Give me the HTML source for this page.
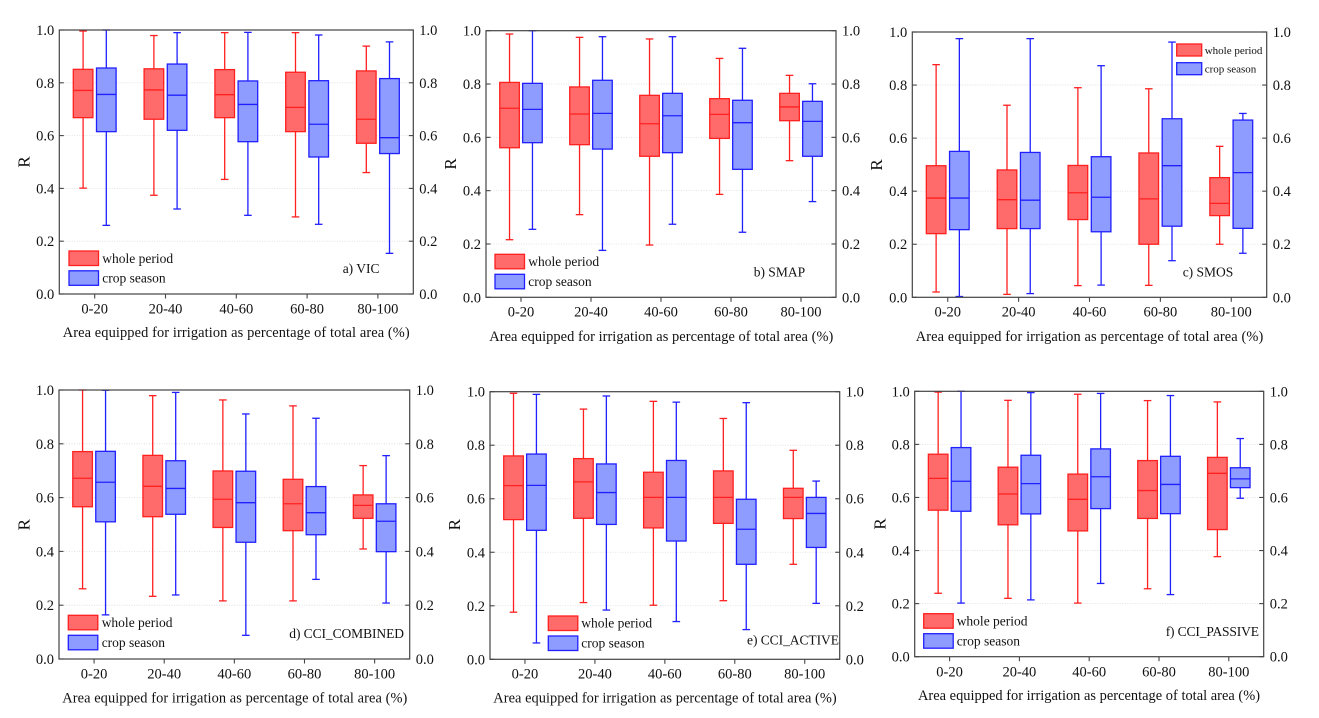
<!DOCTYPE html>
<html lang="en">
<head>
<meta charset="utf-8">
<title>Correlation R by irrigated area for six soil moisture products</title>
<style>
html,body{margin:0;padding:0;background:#fff;width:1319px;height:718px;overflow:hidden}
svg{display:block;filter:blur(.3px)}
text{font-family:"Liberation Serif",serif;fill:#111}
.leg,.tag{font-size:13.5px}
.xt{font-size:14.4px}
.tk{font-size:14.5px}
.yt{font-size:17px}
.red{fill:#ff6b6b;stroke:#ff2020;stroke-width:1.3}
.blue{fill:#8f9cff;stroke:#2020ff;stroke-width:1.3}
</style>
</head>
<body>
<svg id="figure" xmlns="http://www.w3.org/2000/svg" width="1319" height="718" viewBox="0 0 1319 718">
  <g id="panel-vic">
    <g class="marks"></g>
    <text class="yt" transform="rotate(-90 29.5 162)" x="29.5" y="162" text-anchor="middle">R</text>
    <text class="xt" x="62.7" y="337" textLength="347" lengthAdjust="spacing">Area equipped for irrigation as percentage of total area (%)</text>
    <rect class="red" x="69" y="251" width="29.5" height="14.5"/>
    <text class="leg" x="102.3" y="263">whole period</text>
    <rect class="blue" x="69" y="270.8" width="29.5" height="14.5"/>
    <text class="leg" x="102.3" y="282.5">crop season</text>
    <text class="tag" x="342.7" y="273">a) VIC</text>
  </g>
  <g id="panel-smap">
    <g class="marks"></g>
    <text class="yt" transform="rotate(-90 456 164)" x="456" y="164" text-anchor="middle">R</text>
    <text class="xt" x="489.3" y="341" textLength="344" lengthAdjust="spacing">Area equipped for irrigation as percentage of total area (%)</text>
    <rect class="red" x="495" y="254.3" width="29.5" height="14.5"/>
    <text class="leg" x="528.3" y="266">whole period</text>
    <rect class="blue" x="495" y="274.3" width="29.5" height="14.5"/>
    <text class="leg" x="528.3" y="286">crop season</text>
    <text class="tag" x="753.7" y="276.7">b) SMAP</text>
  </g>
  <g id="panel-smos">
    <g class="marks"></g>
    <text class="yt" transform="rotate(-90 882 165)" x="882" y="165" text-anchor="middle">R</text>
    <text class="xt" x="915.7" y="341" textLength="347.6" lengthAdjust="spacing">Area equipped for irrigation as percentage of total area (%)</text>
    <text class="tag" x="1182.7" y="276.7">c) SMOS</text>
  </g>
  <g id="panel-combined">
    <g class="marks"></g>
    <text class="yt" transform="rotate(-90 29.5 524.7)" x="29.5" y="524.7" text-anchor="middle">R</text>
    <text class="xt" x="62.3" y="702.7" textLength="345" lengthAdjust="spacing">Area equipped for irrigation as percentage of total area (%)</text>
    <rect class="red" x="68.3" y="615.3" width="29.5" height="14.5"/>
    <text class="leg" x="101.7" y="627">whole period</text>
    <rect class="blue" x="68.3" y="635.3" width="29.5" height="14.5"/>
    <text class="leg" x="101.7" y="647">crop season</text>
    <text class="tag" x="289.3" y="638" textLength="114.7" lengthAdjust="spacing">d) CCI_COMBINED</text>
  </g>
  <g id="panel-active">
    <g class="marks"></g>
    <text class="yt" transform="rotate(-90 460 524.7)" x="460" y="524.7" text-anchor="middle">R</text>
    <text class="xt" x="493.3" y="702.7" textLength="343.4" lengthAdjust="spacing">Area equipped for irrigation as percentage of total area (%)</text>
    <rect class="red" x="548.3" y="616" width="29.5" height="14.5"/>
    <text class="leg" x="581.3" y="627.7">whole period</text>
    <rect class="blue" x="548.3" y="636" width="29.5" height="14.5"/>
    <text class="leg" x="581.3" y="647.7">crop season</text>
    <text class="tag" x="747" y="644.7" textLength="92" lengthAdjust="spacing">e) CCI_ACTIVE</text>
  </g>
  <g id="panel-passive">
    <g class="marks"></g>
    <text class="yt" transform="rotate(-90 885.3 524)" x="885.3" y="524" text-anchor="middle">R</text>
    <text class="xt" x="918" y="700" textLength="342" lengthAdjust="spacing">Area equipped for irrigation as percentage of total area (%)</text>
    <rect class="red" x="923.7" y="613.7" width="29.5" height="14.5"/>
    <text class="leg" x="956.7" y="625.5">whole period</text>
    <rect class="blue" x="923.7" y="633.7" width="29.5" height="14.5"/>
    <text class="leg" x="956.7" y="645.5">crop season</text>
    <text class="tag" x="1165.7" y="636" textLength="93.3" lengthAdjust="spacing">f) CCI_PASSIVE</text>
  </g>
  <g id="smos-legend-top">
    <rect class="red" x="1176.7" y="44" width="25" height="12"/>
    <text x="1204.7" y="54" font-size="11">whole period</text>
    <rect class="blue" x="1176.7" y="62.7" width="25" height="12"/>
    <text x="1204.7" y="72.5" font-size="11">crop season</text>
  </g>
</svg>
<script>
// Shared axis labels
const categories = ["0-20", "20-40", "40-60", "60-80", "80-100"];
const yTickValues = [0, 0.2, 0.4, 0.6, 0.8, 1.0];
const yTickLabels = ["0.0", "0.2", "0.4", "0.6", "0.8", "1.0"];

// Each row is one category: [low whisker, Q1, median, Q3, high whisker]
const vicWhole = [[.401,.668,.771,.851,.996],[.374,.662,.773,.853,.979],[.434,.668,.755,.85,.99],[.292,.615,.707,.84,.99],[.46,.571,.662,.845,.939]];
const vicCrop = [[.26,.615,.756,.856,1],[.322,.62,.753,.871,.99],[.298,.577,.718,.807,.991],[.264,.519,.643,.808,.981],[.154,.532,.592,.816,.955]];
const smapWhole = [[.216,.561,.709,.806,.9875],[.31,.5725,.6875,.789,.975],[.196,.529,.651,.7575,.969],[.386,.596,.686,.745,.896],[.5125,.6625,.714,.765,.8325]];
const smapCrop = [[.255,.58,.705,.8025,1],[.176,.556,.69,.814,.9775],[.274,.5425,.681,.765,.9775],[.244,.48,.655,.739,.934],[.359,.529,.66,.735,.801]];
const smosWhole = [[.02,.24,.374,.496,.877],[.011,.259,.368,.48,.724],[.044,.293,.394,.497,.79],[.045,.2,.371,.544,.786],[.2,.308,.354,.451,.569]];
const smosCrop = [[.003,.255,.374,.55,.975],[.014,.259,.366,.546,.975],[.046,.247,.377,.53,.873],[.138,.268,.496,.673,.962],[.166,.26,.47,.668,.693]];
const combinedWhole = [[.261,.566,.672,.771,1],[.233,.529,.642,.757,.979],[.216,.489,.594,.699,.963],[.216,.477,.577,.668,.941],[.409,.523,.571,.61,.719]];
const combinedCrop = [[.164,.51,.657,.772,.999],[.238,.538,.634,.737,.991],[.088,.434,.581,.698,.911],[.296,.462,.544,.641,.895],[.208,.399,.512,.577,.756]];
const activeWhole = [[.176,.522,.649,.76,.994],[.212,.527,.663,.75,.935],[.202,.491,.605,.699,.964],[.219,.508,.605,.704,.9],[.355,.526,.605,.639,.781]];
const activeCrop = [[.061,.482,.65,.767,.99],[.184,.504,.623,.73,.984],[.141,.442,.605,.743,.961],[.111,.355,.486,.598,.959],[.209,.418,.545,.605,.666]];
const passiveWhole = [[.239,.552,.672,.763,.997],[.22,.497,.613,.714,.966],[.202,.474,.593,.688,.989],[.256,.521,.626,.739,.965],[.377,.479,.691,.751,.96]];
const passiveCrop = [[.202,.548,.661,.788,1],[.214,.538,.652,.759,.995],[.276,.558,.678,.783,.992],[.234,.539,.649,.755,.984],[.597,.637,.67,.712,.822]];

const NS = "http://www.w3.org/2000/svg";
const COLORS = {
  whole: {fill: "#ff6b6b", stroke: "#ff2020"},
  crop: {fill: "#8f9cff", stroke: "#2020ff"}
};

// Plot-frame geometry for each panel
const panels = [
  {id: "panel-vic", whole: vicWhole, crop: vicCrop, left: 59.3, right: 413.3, top: 30, bottom: 294, tickY: 313.3},
  {id: "panel-smap", whole: smapWhole, crop: smapCrop, left: 486, right: 836, top: 30.7, bottom: 297.3, tickY: 316.7},
  {id: "panel-smos", whole: smosWhole, crop: smosCrop, left: 912.3, right: 1266.7, top: 32, bottom: 297.3, tickY: 316.7},
  {id: "panel-combined", whole: combinedWhole, crop: combinedCrop, left: 59, right: 409.7, top: 390, bottom: 659, tickY: 678.7},
  {id: "panel-active", whole: activeWhole, crop: activeCrop, left: 490, right: 839.7, top: 391.7, bottom: 659.3, tickY: 678.7},
  {id: "panel-passive", whole: passiveWhole, crop: passiveCrop, left: 914.7, right: 1263.7, top: 391.3, bottom: 656.7, tickY: 676.3}
];

function yScale(p, v) {
  return p.bottom - v * (p.bottom - p.top);
}
function xBand(p, i) {
  return p.left + (i + 0.5) * (p.right - p.left) / categories.length;
}
function makeLine(x1, y1, x2, y2, stroke, width) {
  const el = document.createElementNS(NS, "line");
  el.setAttribute("x1", x1);
  el.setAttribute("y1", y1);
  el.setAttribute("x2", x2);
  el.setAttribute("y2", y2);
  el.setAttribute("stroke", stroke);
  el.setAttribute("stroke-width", width);
  return el;
}
function makeLabel(cls, x, y, anchor, content) {
  const el = document.createElementNS(NS, "text");
  el.setAttribute("class", cls);
  el.setAttribute("x", x);
  el.setAttribute("y", y);
  el.setAttribute("text-anchor", anchor);
  el.textContent = content;
  return el;
}

function drawBox(g, p, row, cx, seriesName, color) {
  const boxW = 19.6, capW = 7.6;
  const low = yScale(p, row[0]), q1 = yScale(p, row[1]), med = yScale(p, row[2]), q3 = yScale(p, row[3]), high = yScale(p, row[4]);

  const whisker = makeLine(cx, high, cx, low, color.stroke, 1.3);
  
  
  g.appendChild(whisker);

  const capHigh = makeLine(cx - capW / 2, high, cx + capW / 2, high, color.stroke, 1.3);
  
  
  g.appendChild(capHigh);

  const capLow = makeLine(cx - capW / 2, low, cx + capW / 2, low, color.stroke, 1.3);
  
  
  g.appendChild(capLow);

  const box = document.createElementNS(NS, "rect");
  box.setAttribute("x", cx - boxW / 2);
  box.setAttribute("y", q3);
  box.setAttribute("width", boxW);
  box.setAttribute("height", q1 - q3);
  box.setAttribute("fill", color.fill);
  box.setAttribute("stroke", color.stroke);
  box.setAttribute("stroke-width", 1.3);
  
  
  g.appendChild(box);

  const median = makeLine(cx - boxW / 2, med, cx + boxW / 2, med, color.stroke, 1.3);
  
  
  g.appendChild(median);
}

function drawPanel(p) {
  const g = document.querySelector("#" + p.id + " .marks");
  const axisColor = "#444";
  const offset = 11.6 * (p.right - p.left) / 354;

  yTickValues.forEach(function (v, i) {
    const y = yScale(p, v);
    if (v > 0 && v < 1) {
      const grid = makeLine(p.left, y, p.right, y, "#dcdcdc", 0.8);
      grid.setAttribute("stroke-dasharray", "1 1.5");
      
      
      g.appendChild(grid);
    }
  });

  categories.forEach(function (c, i) {
    const cx = xBand(p, i);
    drawBox(g, p, p.whole[i], cx - offset, 'whole-period-' + c, COLORS.whole);
    drawBox(g, p, p.crop[i], cx + offset, 'crop-season-' + c, COLORS.crop);
  });

  const frame = document.createElementNS(NS, "rect");
  frame.setAttribute("x", p.left);
  frame.setAttribute("y", p.top);
  frame.setAttribute("width", p.right - p.left);
  frame.setAttribute("height", p.bottom - p.top);
  frame.setAttribute("fill", "none");
  frame.setAttribute("stroke", axisColor);
  frame.setAttribute("stroke-width", 1.2);
  
  
  g.appendChild(frame);

  yTickValues.forEach(function (v, i) {
    const y = yScale(p, v);
    const tickL = makeLine(p.left, y, p.left + 4.5, y, axisColor, 1.1);
    
    
    g.appendChild(tickL);

    const tickR = makeLine(p.right - 4.5, y, p.right, y, axisColor, 1.1);
    
    
    g.appendChild(tickR);

    const labelL = makeLabel("tk", p.left - 5, y + 5, "end", yTickLabels[i]);
    
    
    g.appendChild(labelL);

    const labelR = makeLabel("tk", p.right + 6, y + 5, "start", yTickLabels[i]);
    
    
    g.appendChild(labelR);
  });

  categories.forEach(function (c, i) {
    const cx = xBand(p, i);
    const tick = makeLine(cx, p.bottom, cx, p.bottom + 4.5, axisColor, 1.1);
    
    
    g.appendChild(tick);

    const label = makeLabel("tk", cx, p.tickY, "middle", c);
    
    
    g.appendChild(label);
  });
}

panels.forEach(drawPanel);
</script>
</body>
</html>
